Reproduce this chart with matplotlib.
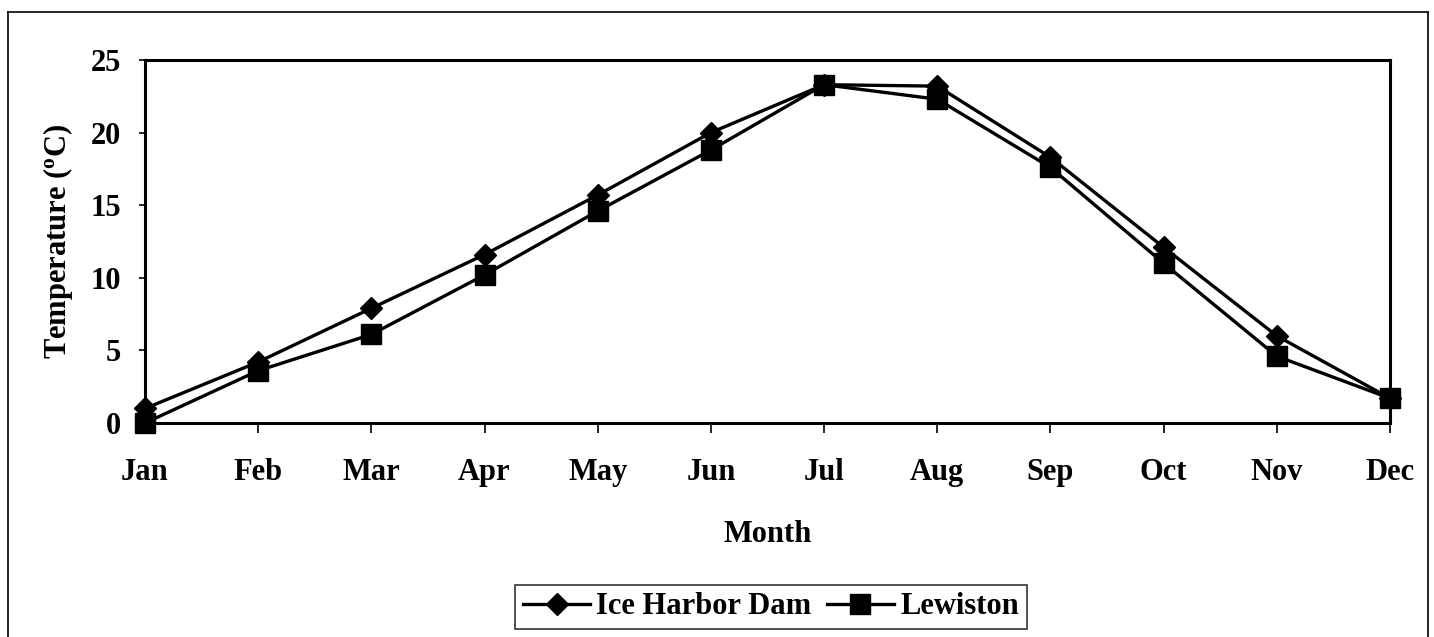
import matplotlib
matplotlib.use("Agg")
import matplotlib.pyplot as plt
from matplotlib.lines import Line2D

months = ["Jan", "Feb", "Mar", "Apr", "May", "Jun", "Jul", "Aug", "Sep", "Oct", "Nov", "Dec"]
ice_harbor = [1.0, 4.2, 7.9, 11.6, 15.7, 20.0, 23.3, 23.2, 18.3, 12.1, 6.0, 1.7]
lewiston = [0.0, 3.6, 6.1, 10.2, 14.6, 18.8, 23.3, 22.3, 17.6, 11.0, 4.6, 1.7]
yticks = [0, 5, 10, 15, 20, 25]

plt.rcParams['font.family'] = ['Liberation Serif', 'DejaVu Serif']
plt.rcParams['font.weight'] = 'bold'
plt.rcParams['mathtext.default'] = 'regular'

W, H = 1434, 637
fig = plt.figure(figsize=(W / 100, H / 100), dpi=100)
ax = fig.add_axes([145 / W, (H - 423) / H, (1390 - 145) / W, (423 - 60) / H])

x = list(range(len(months)))
ax.plot(x, ice_harbor, color='black', lw=2.4, marker='D', markersize=11,
        label='Ice Harbor Dam', clip_on=False, zorder=3)
ax.plot(x, lewiston, color='black', lw=2.4, marker='s', markersize=15,
        label='Lewiston', clip_on=False, zorder=3)

ax.set_xlim(0, len(months) - 1)
ax.set_ylim(0, 25)
ax.set_xticks(x)
ax.set_xticklabels(months, fontsize=22, fontweight='bold')
ax.set_yticks(yticks)
ax.set_yticklabels([str(v) for v in yticks], fontsize=22, fontweight='bold')
ax.tick_params(axis='x', direction='out', length=7, width=1.2, pad=18)
ax.tick_params(axis='y', direction='out', length=4, width=1.2, pad=13)
for s in ax.spines.values():
    s.set_linewidth(2.2)
    s.set_color('black')

ax.set_xlabel('Month', fontsize=22, fontweight='bold', labelpad=24)
ax.set_ylabel('Temperature ($^{o}$C)', fontsize=22, fontweight='bold', labelpad=11)

leg = fig.legend(loc='center', bbox_to_anchor=(771 / W, 1 - 607 / H), ncol=2, frameon=True,
                 fancybox=False, edgecolor='black', fontsize=22, handlelength=2.2,
                 handletextpad=0.2, columnspacing=0.5, borderpad=0.25, borderaxespad=0)
leg.get_frame().set_linewidth(1.2)

# figure border (left, top, right)
bx0, bx1, by0 = 8 / W, 1428 / W, 1 - 12 / H
for xs, ys in [([bx0, bx0], [0, by0]), ([bx0, bx1], [by0, by0]), ([bx1, bx1], [0, by0])]:
    fig.lines.append(Line2D(xs, ys, transform=fig.transFigure, color='black', lw=1.2))

fig.savefig('out.png', dpi=100)
